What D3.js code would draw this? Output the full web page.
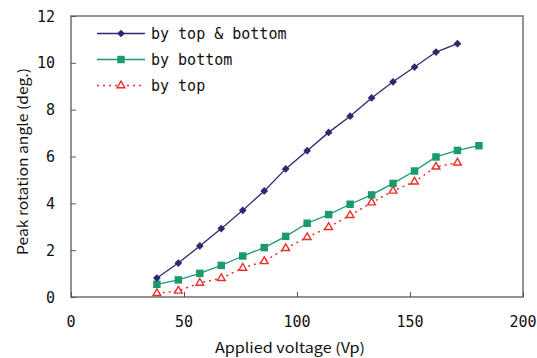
<!doctype html>
<html lang="en">
<head>
<meta charset="utf-8">
<script src="https://cdnjs.cloudflare.com/ajax/libs/d3/7.8.5/d3.min.js"></script>
<style>
  body { margin: 0; background: #fff; }
  svg text { font-family: 'DejaVu Sans Mono', 'Liberation Mono', monospace; fill: #111; }
  svg text.title { font-family: 'Noto Sans CJK JP', 'DejaVu Sans', sans-serif; }
</style>
</head>
<body>
<script>
// voltages (Vp)
const voltTB = [38, 47.5, 57, 66.5, 76, 85.5, 95, 104.5, 114, 123.5, 133, 142.5, 152, 161.5, 171];
const voltB = [38, 47.5, 57, 66.5, 76, 85.5, 95, 104.5, 114, 123.5, 133, 142.5, 152, 161.5, 171, 180.5];
const voltT = [38, 47.5, 57, 66.5, 76, 85.5, 95, 104.5, 114, 123.5, 133, 142.5, 152, 161.5, 171];

// peak rotation angle (deg.)
const angleTB = [0.81, 1.45, 2.18, 2.92, 3.70, 4.53, 5.47, 6.25, 7.03, 7.72, 8.50, 9.19, 9.82, 10.46, 10.82];
const angleB = [0.54, 0.73, 1.01, 1.35, 1.75, 2.11, 2.59, 3.15, 3.52, 3.96, 4.36, 4.85, 5.38, 5.98, 6.26, 6.46];
const angleT = [0.16, 0.26, 0.60, 0.80, 1.24, 1.52, 2.08, 2.55, 2.98, 3.49, 4.03, 4.53, 4.92, 5.56, 5.73];

const xTicks = [0, 50, 100, 150, 200];
const yTicks = [0, 2, 4, 6, 8, 10, 12];
const seriesNames = ["by top & bottom", "by bottom", "by top"];

const w = 537, h = 358;
const pLeft = 71, pRight = 523, pTop = 16, pBottom = 297;

const x = d3.scaleLinear().domain([0, 200]).range([pLeft, pRight]);
const y = d3.scaleLinear().domain([0, 12]).range([pBottom, pTop]);

const svg = d3.select("body").append("svg").attr("width", w).attr("height", h);

// frame
svg.append("rect")
  .attr("x", pLeft).attr("y", pTop)
  .attr("width", pRight - pLeft).attr("height", pBottom - pTop)
  .attr("fill", "none").attr("stroke", "#707070").attr("stroke-width", 1.5);

// inward ticks
const xAxis = d3.axisTop(x).tickValues(xTicks).tickSize(5).tickFormat("");
svg.append("g").attr("transform", "translate(0," + pBottom + ")").call(xAxis)
  .call(g => g.select(".domain").remove())
  .selectAll("line").attr("stroke", "#555");

const yAxis = d3.axisRight(y).tickValues(yTicks).tickSize(5).tickFormat("");
svg.append("g").attr("transform", "translate(" + pLeft + ",0)").call(yAxis)
  .call(g => g.select(".domain").remove())
  .selectAll("line").attr("stroke", "#555");

// tick labels
svg.selectAll(".xl").data(xTicks).enter().append("text")
  .attr("x", d => x(d)).attr("y", 327)
  .attr("text-anchor", "middle").attr("font-size", 15)
  .text(d => d);

svg.selectAll(".yl").data(yTicks).enter().append("text")
  .attr("x", 55).attr("y", d => y(d) + 5.5)
  .attr("text-anchor", "end").attr("font-size", 15)
  .text(d => d);

// axis titles
svg.append("text").attr("class", "title")
  .attr("x", 290).attr("y", 353)
  .attr("text-anchor", "middle").attr("font-size", 14)
  .attr("textLength", 150).attr("lengthAdjust", "spacingAndGlyphs")
  .text("Applied voltage (Vp)");

svg.append("text").attr("class", "title")
  .attr("transform", "rotate(-90)")
  .attr("x", -161.5).attr("y", 28)
  .attr("text-anchor", "middle").attr("font-size", 14)
  .attr("textLength", 187).attr("lengthAdjust", "spacingAndGlyphs")
  .text("Peak rotation angle (deg.)");

const line = d3.line().x(d => x(d[0])).y(d => y(d[1]));

const navy = "#2a2a6e", green = "#1b9b6b", red = "#e8302a";

const tb = d3.zip(voltTB, angleTB);
const bb = d3.zip(voltB, angleB);
const tt = d3.zip(voltT, angleT);

// by top (dotted, triangles)
svg.append("path").datum(tt).attr("d", line)
  .attr("fill", "none").attr("stroke", red).attr("stroke-width", 1.5)
  .attr("stroke-dasharray", "2,4");

// by bottom
svg.append("path").datum(bb).attr("d", line)
  .attr("fill", "none").attr("stroke", green).attr("stroke-width", 1.3);

// by top & bottom
svg.append("path").datum(tb).attr("d", line)
  .attr("fill", "none").attr("stroke", navy).attr("stroke-width", 1.3);

const diamond = d3.symbol().type(d3.symbolSquare).size(30);
const square = d3.symbol().type(d3.symbolSquare).size(56);
const triangle = d3.symbol().type(d3.symbolTriangle).size(26);

svg.selectAll(".tri").data(tt).enter().append("path")
  .attr("d", triangle)
  .attr("transform", d => "translate(" + x(d[0]) + "," + y(d[1]) + ")")
  .attr("fill", "#fff").attr("stroke", red).attr("stroke-width", 1.4);

svg.selectAll(".sq").data(bb).enter().append("path")
  .attr("d", square)
  .attr("transform", d => "translate(" + x(d[0]) + "," + y(d[1]) + ")")
  .attr("fill", green);

svg.selectAll(".dia").data(tb).enter().append("path")
  .attr("d", diamond)
  .attr("transform", d => "translate(" + x(d[0]) + "," + y(d[1]) + ") rotate(45)")
  .attr("fill", navy);

// legend
const legend = svg.append("g").attr("id", "legend");
const rows = [
  { name: seriesNames[0], color: navy, sym: diamond, rot: 45, dash: null, fill: navy },
  { name: seriesNames[1], color: green, sym: square, rot: 0, dash: null, fill: green },
  { name: seriesNames[2], color: red, sym: triangle, rot: 0, dash: "2,4", fill: "#fff" }
];
rows.forEach((r, i) => {
  const ly = 33.5 + i * 26;
  legend.append("line")
    .attr("x1", 97).attr("x2", 145).attr("y1", ly).attr("y2", ly)
    .attr("stroke", r.color).attr("stroke-width", i == 2 ? 1.5 : 1.3)
    .attr("stroke-dasharray", r.dash);
  legend.append("path").attr("d", r.sym)
    .attr("transform", "translate(121," + ly + ") rotate(" + r.rot + ")")
    .attr("fill", r.fill)
    .attr("stroke", i == 2 ? red : null).attr("stroke-width", 1.4);
  legend.append("text")
    .attr("x", 151).attr("y", ly + 5)
    .attr("font-size", 15)
    .text(r.name);
});
</script>
</body>
</html>
